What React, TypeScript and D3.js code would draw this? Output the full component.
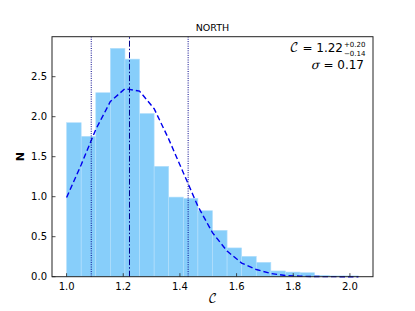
import React from "react";
import * as d3 from "d3";

// histogram (20 bins from 1.0, width 0.0515)
const binStart = 1.0;
const binWidth = 0.0515;
const counts = [1.925, 1.755, 2.3, 2.855, 2.72, 2.04, 1.38, 0.995, 0.98, 0.825, 0.58, 0.36, 0.255, 0.18, 0.072, 0.058, 0.05, 0.017, 0.01, 0.01];

// fitted curve, sampled at bin edges
const curveX = [1.0, 1.0515, 1.103, 1.1545, 1.206, 1.2575, 1.309, 1.3605, 1.412, 1.4635, 1.515, 1.5665, 1.618, 1.6695, 1.721, 1.7725, 1.824, 1.8755, 1.927, 1.9785, 2.03];
const curveY = [0.99, 1.4, 1.84, 2.19, 2.35, 2.32, 2.1, 1.72, 1.3, 0.88, 0.55, 0.32, 0.17, 0.09, 0.04, 0.015, 0.006, 0.002, 0.001, 0.0, 0.0];

const median = 1.222;
const lower = 1.087;
const upper = 1.429;

const xTicks = [1.0, 1.2, 1.4, 1.6, 1.8, 2.0];
const yTicks = [0.0, 0.5, 1.0, 1.5, 2.0, 2.5];

export default function App() {
  const width = 415;
  const height = 311;
  const margin = { top: 36.7, right: 42, bottom: 34.3, left: 52 };
  const x = d3
    .scaleLinear()
    .domain([0.9485, 2.0815])
    .range([margin.left, width - margin.right]);
  const y = d3
    .scaleLinear()
    .domain([0, 3.0])
    .range([height - margin.bottom, margin.top]);

  const line = d3
    .line<number>()
    .x((d, i) => x(curveX[i]))
    .y((d) => y(d));

  const font = "DejaVu Sans, sans-serif";
  const mathFont = "'DejaVu Math TeX Gyre', 'DejaVu Serif', serif";
  const [x0, x1] = x.range();
  const [yb, yt] = y.range();

  return (
    <svg width={width} height={height} style={{ position: "absolute", left: 0, top: 0 }}>
      <rect width={width} height={height} fill="white" />
      <g>
        {counts.map((c, i) => {
          const a = binStart + i * binWidth;
          return (
            <rect
              key={i}
              x={x(a)}
              y={y(c)}
              width={x(a + binWidth) - x(a)}
              height={y(0) - y(c)}
              fill="#87cefa"
              stroke="#b5e0fc"
              strokeWidth={0.6}
            />
          );
        })}
      </g>
      <path d={line(curveY) || ""} fill="none" stroke="#0000ee" strokeWidth={1.4} strokeDasharray="5.5,3" />
      <line x1={x(median)} x2={x(median)} y1={yb} y2={yt} stroke="#00008b" strokeWidth={1} strokeDasharray="6,2,1.5,2" />
      <line x1={x(lower)} x2={x(lower)} y1={yb} y2={yt} stroke="#00008b" strokeWidth={1} strokeDasharray="1,1.3" />
      <line x1={x(upper)} x2={x(upper)} y1={yb} y2={yt} stroke="#00008b" strokeWidth={1} strokeDasharray="1,1.3" />

      <rect x={x0} y={yt} width={x1 - x0} height={yb - yt} fill="none" stroke="#222" strokeWidth={1} />

      {xTicks.map((t) => (
        <g key={t}>
          <line x1={x(t)} x2={x(t)} y1={yb} y2={yb - 3.5} stroke="#222" strokeWidth={0.8} />
          <text x={x(t)} y={yb + 13.5} textAnchor="middle" fontFamily={font} fontSize={10}>
            {t.toFixed(1)}
          </text>
        </g>
      ))}
      {yTicks.map((t) => (
        <g key={t}>
          <line x1={x0} x2={x0 + 3.5} y1={y(t)} y2={y(t)} stroke="#222" strokeWidth={0.8} />
          <text x={x0 - 5} y={y(t) + 3.6} textAnchor="end" fontFamily={font} fontSize={10}>
            {t.toFixed(1)}
          </text>
        </g>
      ))}

      <text x={(x0 + x1) / 2} y={30.5} textAnchor="middle" fontFamily={font} fontSize={9.5}>
        NORTH
      </text>
      <text
        transform={`translate(24,${(yb + yt) / 2}) rotate(-90)`}
        textAnchor="middle"
        fontFamily={font}
        fontSize={11}
        fontWeight="bold"
      >
        N
      </text>
      <text x={(x0 + x1) / 2} y={302.5} textAnchor="middle" fontFamily={mathFont} fontSize={12}>
        𝒞
      </text>

      <text x={343} y={52.3} textAnchor="end" fontFamily={font} fontSize={12}>
        <tspan fontFamily={mathFont}>𝒞</tspan>
        <tspan>{" = 1.22"}</tspan>
      </text>
      <text x={344} y={47} fontFamily={font} fontSize={7}>
        +0.20
      </text>
      <text x={344} y={55.6} fontFamily={font} fontSize={7}>
        −0.14
      </text>
      <text x={364} y={69} textAnchor="end" fontFamily={font} fontSize={12}>
        <tspan fontFamily={mathFont} fontStyle="italic">σ</tspan>
        <tspan>{" = 0.17"}</tspan>
      </text>
    </svg>
  );
}
